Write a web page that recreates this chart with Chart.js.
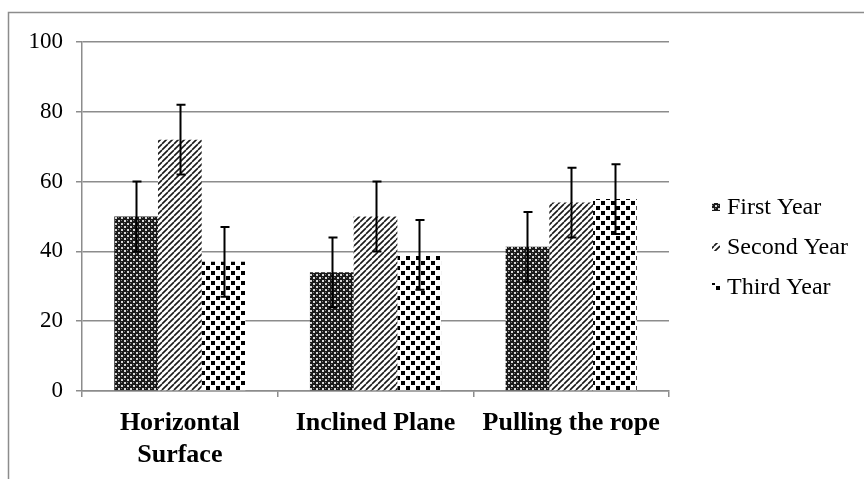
<!DOCTYPE html>
<html>
<head>
<meta charset="utf-8">
<script src="https://cdn.jsdelivr.net/npm/chart.js@4.4.0/dist/chart.umd.min.js"></script>
<style>
  html, body { margin: 0; padding: 0; background: #fff; }
  #wrap { width: 864px; height: 479px; position: relative; }
</style>
</head>
<body>
<div id="wrap"><canvas id="chart" width="864" height="479"></canvas></div>
<script>
// data
const categories = [['Horizontal', 'Surface'], 'Inclined Plane', 'Pulling the rope'];
const seriesNames = ['First Year', 'Second Year', 'Third Year'];
const firstYear = [50, 34, 41.3];
const secondYear = [72, 50, 54];
const thirdYear = [37, 39, 55];
const firstErr = [10, 10, 10];
const secondErr = [10, 10, 10];
const thirdErr = [10, 10, 10];
const yTicks = [0, 20, 40, 60, 80, 100];

// fill patterns
function makePattern(size, draw) {
    const c = document.createElement('canvas');
    c.width = size; c.height = size;
    const g = c.getContext('2d');
    draw(g, size);
    return document.getElementById('chart').getContext('2d').createPattern(c, 'repeat');
}

const crossPattern = makePattern(6, function(g, s) {
    g.fillStyle = '#1a1a1a';
    g.fillRect(0, 0, s, s);
    g.fillStyle = '#d8d8d8';
    g.fillRect(1, 1, 2, 2);
    g.fillRect(4, 4, 2, 2);
    g.fillStyle = '#7a7a7a';
    g.fillRect(4, 1, 1, 1);
    g.fillRect(1, 4, 1, 1);
});

const stripePattern = makePattern(6, function(g, s) {
    g.fillStyle = '#ffffff';
    g.fillRect(0, 0, s, s);
    g.strokeStyle = '#1a1a1a';
    g.lineWidth = 1.6;
    g.beginPath();
    for (let k = -1; k <= 1; k++) {
        g.moveTo(k * s, s);
        g.lineTo(k * s + s, 0);
    }
    g.stroke();
});

const dotPattern = makePattern(10, function(g, s) {
    g.fillStyle = '#ffffff';
    g.fillRect(0, 0, s, s);
    g.fillStyle = '#000000';
    g.fillRect(1, 1, 4, 4);
    g.fillRect(6, 6, 4, 4);
});

const fills = [crossPattern, stripePattern, dotPattern];
const errs = [firstErr, secondErr, thirdErr];

const frameAndLegend = {
    id: 'frameAndLegend',
    beforeDraw: function(chart) {
        const ctx = chart.ctx;
        ctx.save();
        ctx.strokeStyle = '#8c8c8c';
        ctx.lineWidth = 1.5;
        ctx.strokeRect(8.5, 12.5, 900, 500);
        ctx.restore();
    },
    afterDraw: function(chart) {
        const ctx = chart.ctx;
        ctx.save();
        ctx.font = '24px "Liberation Serif"';
        ctx.textBaseline = 'middle';
        const ys = [207, 247, 287];
        seriesNames.forEach(function(name, i) {
            ctx.fillStyle = fills[i];
            ctx.fillRect(712, ys[i] - 4, 8, 8);
            ctx.fillStyle = '#000';
            ctx.fillText(name, 727, ys[i] + 1);
        });
        ctx.restore();
    }
};

const errorBars = {
    id: 'errorBars',
    afterDatasetsDraw: function(chart) {
        const ctx = chart.ctx;
        const y = chart.scales.y;
        ctx.save();
        ctx.strokeStyle = '#000';
        ctx.lineWidth = 2;
        chart.data.datasets.forEach(function(ds, di) {
            chart.getDatasetMeta(di).data.forEach(function(bar, i) {
                const v = ds.data[i];
                const e = errs[di][i];
                const x = Math.round(bar.x) + 0.5;
                const top = y.getPixelForValue(v + e);
                const bot = y.getPixelForValue(v - e);
                ctx.beginPath();
                ctx.moveTo(x, top); ctx.lineTo(x, bot);
                ctx.moveTo(x - 4, top); ctx.lineTo(x + 5, top);
                ctx.moveTo(x - 4, bot); ctx.lineTo(x + 5, bot);
                ctx.stroke();
            });
        });
        ctx.restore();
    }
};

new Chart(document.getElementById('chart').getContext('2d'), {
    type: 'bar',
    data: {
        labels: categories,
        datasets: [
            { label: seriesNames[0], data: firstYear, backgroundColor: crossPattern },
            { label: seriesNames[1], data: secondYear, backgroundColor: stripePattern },
            { label: seriesNames[2], data: thirdYear, backgroundColor: dotPattern }
        ]
    },
    options: {
        responsive: false,
        animation: false,
        devicePixelRatio: 1,
        categoryPercentage: 0.67,
        barPercentage: 1,
        layout: { padding: { left: 22, top: 42, right: 195, bottom: 0 } },
        plugins: {
            legend: { display: false },
            tooltip: { enabled: false }
        },
        scales: {
            y: {
                min: 0,
                max: 100,
                afterFit: function(s) { s.width = 60; },
                afterBuildTicks: function(s) { s.ticks = yTicks.map(v => ({ value: v })); },
                border: { color: '#8c8c8c', width: 1.5 },
                grid: { color: '#8c8c8c', lineWidth: 1.5, tickLength: 6 },
                ticks: {
                    color: '#000',
                    padding: 13,
                    font: { family: '"Liberation Serif"', size: 23 }
                }
            },
            x: {
                afterFit: function(s) { s.height = 88; },
                border: { color: '#8c8c8c', width: 1.5 },
                grid: { drawOnChartArea: false, color: '#8c8c8c', lineWidth: 1.5, tickLength: 6 },
                ticks: {
                    color: '#000',
                    padding: 11,
                    maxRotation: 0,
                    autoSkip: false,
                    font: { family: '"Liberation Serif"', size: 26, weight: 'bold', lineHeight: 1.2 }
                }
            }
        }
    },
    plugins: [frameAndLegend, errorBars]
});
</script>
</body>
</html>
